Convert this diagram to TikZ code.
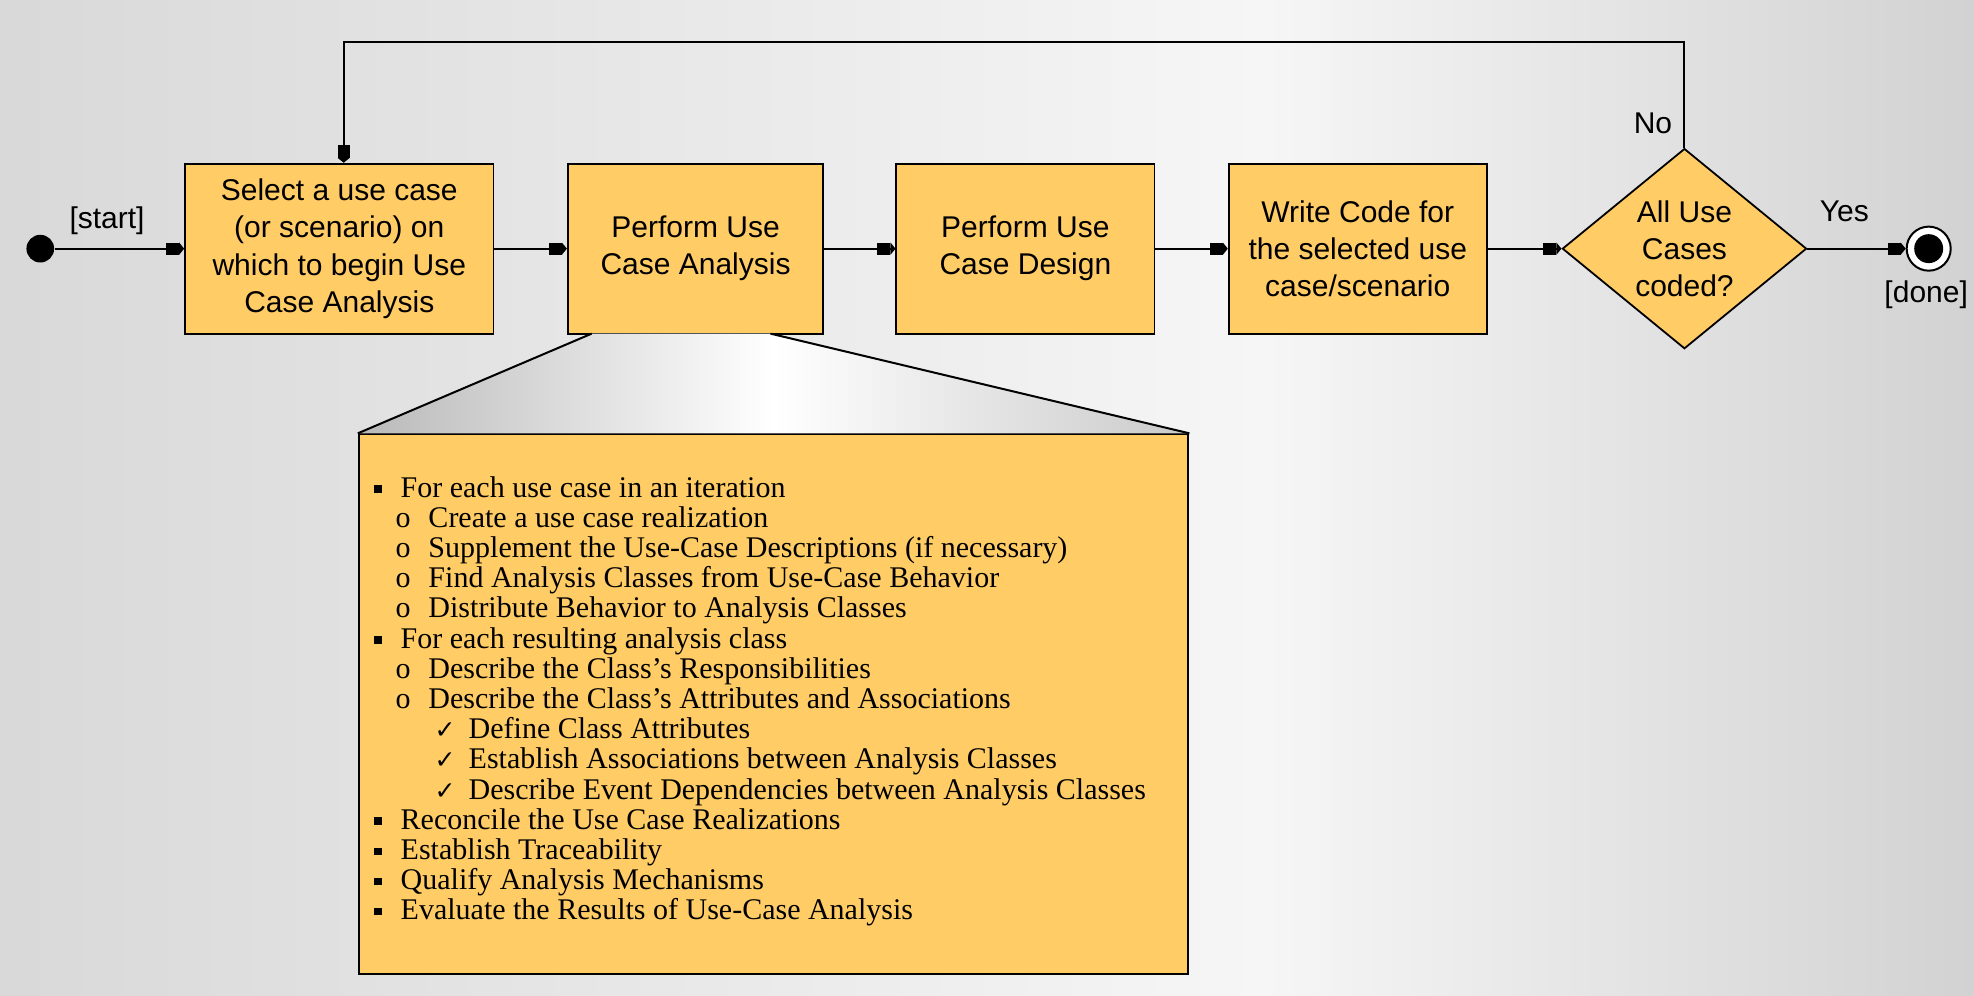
\documentclass[tikz,border=0pt]{standalone}
\usepackage{fontspec}
\setmainfont{Liberation Serif}
\setsansfont{Liberation Sans}
\newfontfamily\symfont{DejaVu Sans}
\usetikzlibrary{arrows.meta,shapes.geometric}
\definecolor{boxfill}{RGB}{255,204,102}
\definecolor{bgA}{RGB}{192,192,192}
\definecolor{bgB}{RGB}{212,212,212}
\definecolor{bgC}{RGB}{246,246,246}
\definecolor{bgD}{RGB}{204,204,204}
\definecolor{bgE}{RGB}{174,174,174}
\definecolor{trapA}{RGB}{115,115,115}
\definecolor{trapB}{RGB}{150,150,150}
\pgfdeclarehorizontalshading{bgshade}{100bp}{color(0bp)=(bgA); color(20bp)=(bgB); color(57bp)=(bgC); color(78bp)=(bgD); color(100bp)=(bgE)}
\pgfdeclarehorizontalshading{trapshade}{100bp}{color(0bp)=(trapA); color(50bp)=(white); color(100bp)=(trapB)}
\def\pxu{0.6295pt}
\newcommand\Ia[1]{\makebox[13.2pt][l]{\raisebox{2.3pt}{\rule{3.6pt}{3.6pt}}}#1}
\newcommand\Ib[1]{\hspace{10.7pt}\makebox[16.4pt][l]{o}#1}
\newcommand\Ic[1]{\hspace{30.2pt}\makebox[17pt][l]{{\symfont\fontsize{12.5pt}{12.5pt}\selectfont ✓}}#1}
\begin{document}
\begin{tikzpicture}[x=0.6295pt,y=-0.6295pt,
  act/.style={draw=black, line width=0.9pt, fill=boxfill, font=\sffamily\fontsize{15pt}{18.6pt}\selectfont, align=center, inner sep=0pt},
  flow/.style={line width=1pt, -{Square[length=6.5pt,width=6pt]Triangle[length=2.5pt,width=6pt]}},
  lbl/.style={font=\sffamily\fontsize{15pt}{18pt}\selectfont, inner sep=0pt},
  edge/.style={line width=1pt}]
\useasboundingbox (0,0) rectangle (1568,791);
\shade[shading=bgshade] (0,0) rectangle (1568,791);

% activities
\node[act, minimum width={245*\pxu}, minimum height={135*\pxu}] (b1) at (269.5,197.5)
  {Select a use case\\(or scenario) on\\which to begin Use\\Case Analysis};
\node[act, minimum width={203*\pxu}, minimum height={135*\pxu}] (b2) at (552.5,197.5)
  {Perform Use\\Case Analysis};
\node[act, minimum width={205*\pxu}, minimum height={135*\pxu}] (b3) at (814.5,197.5)
  {Perform Use\\Case Design};
\node[act, minimum width={205*\pxu}, minimum height={135*\pxu}] (b4) at (1078.5,197.5)
  {Write Code for\\the selected use\\case/scenario};
\node[act, diamond, minimum width={194*\pxu}, minimum height={159*\pxu}, aspect=1.22] (dia) at (1338,197.5)
  {All Use\\Cases\\coded?};

% start / end
\node[circle, fill=black, minimum size={22*\pxu}, inner sep=0pt] (st) at (32,197.5) {};
\node[circle, draw=black, line width=1pt, fill=white, minimum size={35*\pxu}, inner sep=0pt] (en) at (1532,197.5) {};
\node[circle, fill=black, minimum size={23*\pxu}, inner sep=0pt] (enin) at (en.center) {};

% labels
\node[lbl] (lstart) at (85,175) {[start]};
\node[lbl] (lno) at (1313,98) {No};
\node[lbl] (lyes) at (1465,168) {Yes};
\node[lbl] (ldone) at (1530,234) {[done]};

% connectors
\draw[flow] (st) -- (b1);
\draw[flow] (b1) -- (b2);
\draw[flow] (b2) -- (b3);
\draw[flow] (b3) -- (b4);
\draw[flow] (b4) -- (dia);
\draw[flow] (dia) -- (en);
\coordinate (lp) at (273,33);
\draw[flow] (dia.north) |- (lp) -- (lp |- b1.north);

% detail box
\node[draw=black, line width=1pt, fill=boxfill, minimum width={659*\pxu}, minimum height={429*\pxu}, inner sep=0pt] (det) at (614.5,559.5) {};
\coordinate (zl) at (470,265);
\coordinate (zr) at (612,265);
\shade[shading=trapshade] (zl) -- (zr) -- (det.north east) -- (det.north west) -- cycle;
\draw[edge] (zl) -- (det.north west);
\draw[edge] (zr) -- (det.north east);

\node[anchor=north west, inner sep=0pt, align=left, font=\rmfamily\fontsize{15pt}{15.1pt}\selectfont] (steps) at (297,378) {%
\Ia{For each use case in an iteration}\\
\Ib{Create a use case realization}\\
\Ib{Supplement the Use-Case Descriptions (if necessary)}\\
\Ib{Find Analysis Classes from Use-Case Behavior}\\
\Ib{Distribute Behavior to Analysis Classes}\\
\Ia{For each resulting analysis class}\\
\Ib{Describe the Class's Responsibilities}\\
\Ib{Describe the Class's Attributes and Associations}\\
\Ic{Define Class Attributes}\\
\Ic{Establish Associations between Analysis Classes}\\
\Ic{Describe Event Dependencies between Analysis Classes}\\
\Ia{Reconcile the Use Case Realizations}\\
\Ia{Establish Traceability}\\
\Ia{Qualify Analysis Mechanisms}\\
\Ia{Evaluate the Results of Use-Case Analysis}};
\end{tikzpicture}
\end{document}
